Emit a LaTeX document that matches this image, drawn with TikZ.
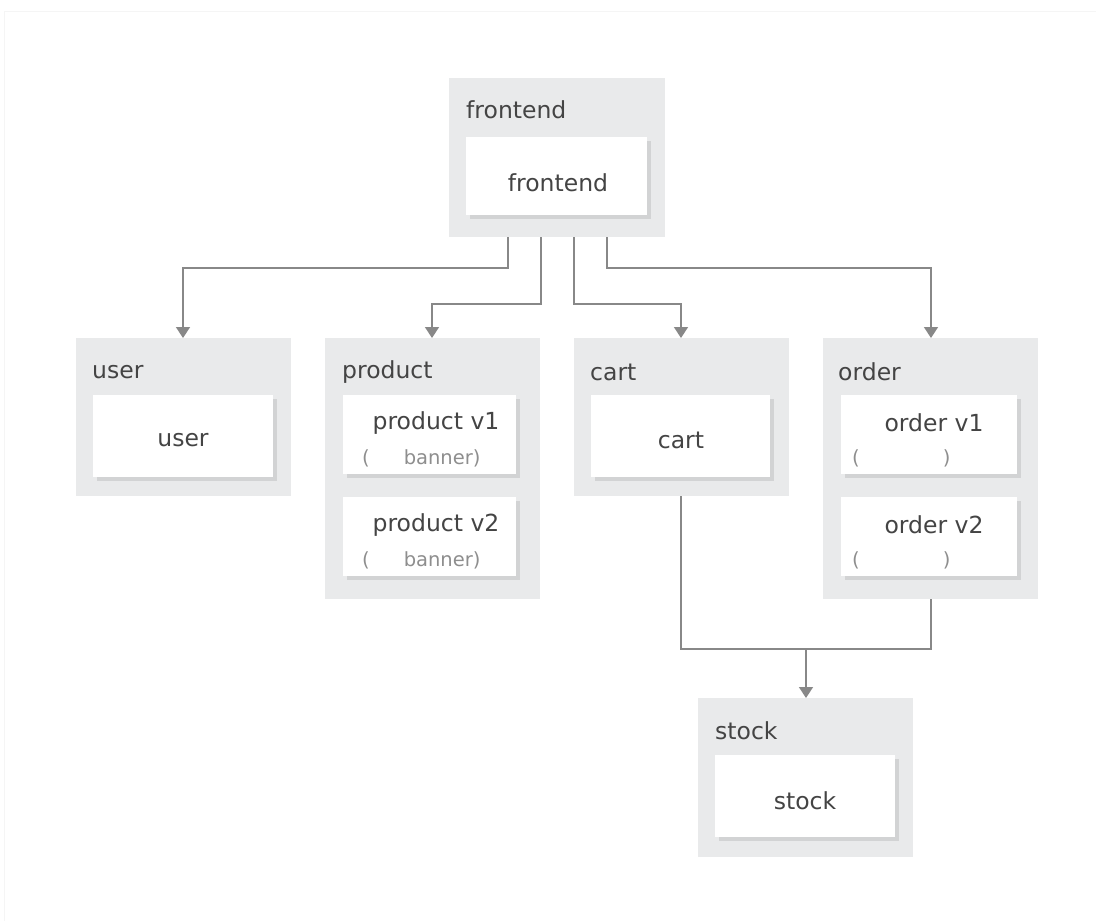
\documentclass[tikz,border=0pt]{standalone}
\usepackage{fontspec}
\setmainfont{DejaVu Sans}
\usetikzlibrary{arrows.meta}
\definecolor{grp}{HTML}{E9EAEB}
\definecolor{shd}{HTML}{D2D3D4}
\definecolor{ln}{HTML}{888888}
\definecolor{tx}{HTML}{444444}
\definecolor{sub}{HTML}{8E8E8E}
\tikzset{
  grpbox/.style={fill=grp, draw=none, inner sep=0pt, anchor=north west},
  grplabel/.style={anchor=west, text=tx, font=\fontsize{23.5}{23.5}\selectfont, inner sep=0pt},
  svcbox/.style={fill=white, draw=none, inner sep=0pt, anchor=north west},
  svctext/.style={text=tx, font=\fontsize{23.5}{23.5}\selectfont, inner sep=0pt},
  subtext/.style={text=sub, font=\fontsize{19.5}{19.5}\selectfont, inner sep=0pt},
  conn/.style={draw=ln, line width=1.5pt},
  arr/.style={conn, -{Triangle[width=14pt,length=11pt]}}
}
\newcommand{\grp}[5]{% name, x, y, w, h
  \node[grpbox, minimum width=#4pt, minimum height=#5pt] (#1) at (#2,#3) {};}
\newcommand{\svc}[5]{% name, x, y, w, h
  \fill[shd] (#2+4,#3+4) rectangle ++(#4,#5);
  \node[svcbox, minimum width=#4pt, minimum height=#5pt] (#1) at (#2,#3) {};}
\begin{document}
\begin{tikzpicture}[x=1pt,y=-1pt]
\useasboundingbox[fill=white] (0,0) rectangle (1096,921);
\draw[color=black!4, line width=1pt] (4,921) -- (4,11) -- (1096,11);
% frontend
\grp{gfront}{449}{78}{216}{159}
\node[grplabel] (lfront) at (466,110) {frontend};
\svc{sfront}{466}{137}{181}{78}
\node[svctext] (tfront) at (558,183) {frontend};
% user
\grp{guser}{76}{338}{215}{158}
\node[grplabel] (luser) at (92,372) {user};
\svc{suser}{93}{395}{180}{82}
\node[svctext] (tuser) at (183,440) {user};
% product
\grp{gprod}{325}{338}{215}{261}
\node[grplabel] (lprod) at (342,372) {product};
\svc{sprod1}{343}{395}{173}{79}
\node[svctext] (tprod1) at (436,423) {product v1};
\node[subtext, anchor=west] (bprod1) at (362,458) {(\hspace{34pt}banner)};
\svc{sprod2}{343}{497}{173}{79}
\node[svctext] (tprod2) at (436,525) {product v2};
\node[subtext, anchor=west] (bprod2) at (362,560) {(\hspace{34pt}banner)};
% cart
\grp{gcart}{574}{338}{215}{158}
\node[grplabel] (lcart) at (590,372) {cart};
\svc{scart}{591}{395}{179}{82}
\node[svctext] (tcart) at (681,440) {cart};
% order
\grp{gorder}{823}{338}{215}{261}
\node[grplabel] (lorder) at (838,372) {order};
\svc{sord1}{841}{395}{176}{79}
\node[svctext] (tord1) at (934,423) {order v1};
\node[subtext, anchor=west] (bord1) at (852,458) {(\hspace{83pt})};
\svc{sord2}{841}{497}{176}{79}
\node[svctext] (tord2) at (934,525) {order v2};
\node[subtext, anchor=west] (bord2) at (852,560) {(\hspace{83pt})};
% stock
\grp{gstock}{698}{698}{215}{159}
\node[grplabel] (lstock) at (715,731) {stock};
\svc{sstock}{715}{755}{180}{82}
\node[svctext] (tstock) at (805,801) {stock};
% connectors
\draw[arr] (gfront.south -| 508,0) |- (183,268) -- (183,338 |- guser.north);
\draw[arr] (gfront.south -| 541,0) |- (432,304) -- (432,338 |- gprod.north);
\draw[arr] (gfront.south -| 574,0) |- (681,304) -- (681,338 |- gcart.north);
\draw[arr] (gfront.south -| 607,0) |- (931,268) -- (931,338 |- gorder.north);
\coordinate (join) at (806,649);
\draw[conn] (gcart.south -| 681,0) |- (join);
\draw[conn] (gorder.south -| 931,0) |- (join);
\draw[arr] (join) -- (806,698 |- gstock.north);
\end{tikzpicture}
\end{document}
